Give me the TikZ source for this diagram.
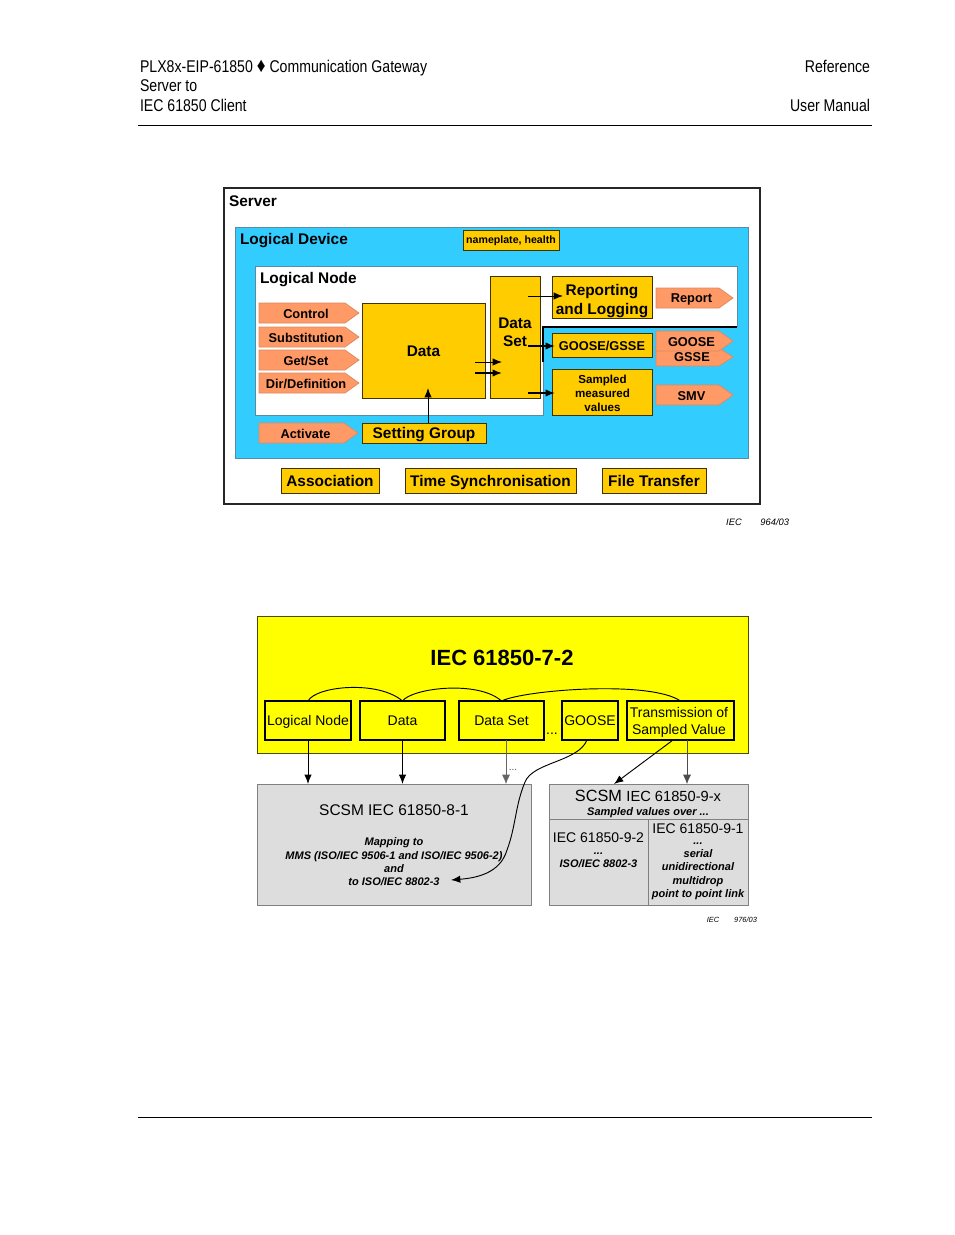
\documentclass[tikz,border=0pt]{standalone}
\usepackage{fontspec}
\setmainfont{Liberation Sans}
\newfontfamily\hdrfont[FakeStretch=0.83]{Liberation Sans}
\usetikzlibrary{arrows.meta}
\definecolor{gold}{HTML}{FFCC00}
\definecolor{skyb}{HTML}{33CCFF}
\definecolor{orng}{HTML}{FF9966}
\definecolor{orngl}{HTML}{D98A60}
\definecolor{yel}{HTML}{FFFF00}
\definecolor{grayb}{HTML}{DDDDDD}
\definecolor{grayl}{HTML}{808080}
\definecolor{teall}{HTML}{5A8CA0}
\tikzset{
  x=0.75pt,y=-0.75pt,
  every node/.style={inner sep=0pt,outer sep=0pt,align=center,text=black},
  gbox/.style={draw=black!75!gold,fill=gold,line width=.75pt,text depth=0pt},
  ybox/.style={draw=black,fill=yel,line width=1.1pt,text depth=0pt},
  gray box/.style={draw=grayl,fill=grayb,line width=.7pt},
  big/.style={font=\fontsize{11.55}{13.6}\selectfont\bfseries},
  mid/.style={font=\fontsize{9.6}{11}\selectfont\bfseries},
  reg/.style={font=\fontsize{10.5}{12.6}\selectfont},
  scsm/.style={font=\fontsize{11.6}{14}\selectfont},
  note/.style={font=\fontsize{8.25}{10}\selectfont\bfseries\itshape},
  hdr/.style={font=\fontsize{12.75}{15}\hdrfont,anchor=base west},
  hdrr/.style={font=\fontsize{12.75}{15}\hdrfont,anchor=base east},
  tagshape/.style={fill=orng,draw=orngl,line width=.5pt},
  arr/.style={-{Latex[length=7pt,width=5.5pt]},line width=.7pt},
  arrb/.style={-{Latex[length=7pt,width=5.5pt]},line width=1.1pt},
  arrg/.style={-{Latex[length=7pt,width=6pt]},line width=.55pt,draw=black!70},
}
\newcommand\dn[1]{\raisebox{-.9pt}{#1}}
\newcommand\bx[7]{%
  \pgfmathsetmacro\bw{(#4-#2)*0.75}%
  \pgfmathsetmacro\bh{(#5-#3)*0.75}%
  \node[#6,minimum width=\bw pt,minimum height=\bh pt,anchor=north west] (#1) at (#2,#3) {#7};}
\newcommand\tg[6]{%
  \pgfmathsetmacro\tipx{#4-14}%
  \pgfmathsetmacro\midy{(#3+#5)/2}%
  \pgfmathsetmacro\txty{\midy+1.3}%
  \pgfmathsetmacro\txtx{(#2+#4-6)/2}%
  \draw[tagshape] (#2,#3) -- (\tipx,#3) -- (#4,\midy) -- (\tipx,#5) -- (#2,#5) -- cycle;
  \node[mid] (#1) at (\txtx,\txty) {#6};}
\begin{document}
\begin{tikzpicture}
\useasboundingbox[fill=white] (0,0) rectangle (954,1235);
% header
\node[hdr] (h1) at (140,72) {PLX8x-EIP-61850 {\fontsize{15.5}{15}\selectfont ♦} Communication Gateway};
\node[hdr] (h2) at (140,91) {Server to};
\node[hdr] (h3) at (140,111) {IEC 61850 Client};
\node[hdrr] (h4) at (870,72) {Reference};
\node[hdrr] (h5) at (870,111) {User Manual};
\coordinate (rt1) at (138,125); \coordinate (rt2) at (872,125);
\coordinate (rb1) at (138,1117); \coordinate (rb2) at (872,1117);
\draw[line width=.75pt] (rt1) -- (rt2);
\draw[line width=.75pt] (rb1) -- (rb2);
% upper diagram
\bx{server}{224}{188}{760}{504}{draw=black!85,fill=white,line width=1.6pt}{}
\node[big,anchor=base west] (serverl) at (229,206) {Server};
\bx{ld}{235}{227}{748}{458}{draw=teall,fill=skyb,line width=.7pt}{}
\node[big,anchor=base west] (ldl) at (240,244) {Logical Device};
\bx{np}{463}{230}{559}{250}{gbox}{\fontsize{7.95}{9}\selectfont\bfseries nameplate, health}
% logical node outline
\fill[white] (255,266) -- (737,266) -- (737,327) -- (543,327) -- (543,415) -- (255,415) -- cycle;
\draw[teall,line width=.7pt] (543,362) -- (543,415) -- (255,415) -- (255,266) -- (737,266) -- (737,327);
\draw[black,line width=.8pt] (543,362) -- (543,327) -- (737,327);
\node[big,anchor=base west] (lnl) at (260,283) {Logical Node};
\tg{ctl}{259}{303}{359}{323}{Control}
\tg{sub}{259}{327}{359}{347}{Substitution}
\tg{gs}{259}{350}{359}{370}{Get/Set}
\tg{dir}{259}{373}{359}{393}{Dir/Definition}
\tg{act}{259}{423}{358}{443}{Activate}
\bx{data}{362}{303}{485}{398}{gbox}{\fontsize{11.55}{13.6}\selectfont\bfseries\dn{Data}}
\bx{ds}{490}{276}{540}{398}{gbox}{}
\node[big] (dsl) at (515,332) {Data\\Set};
\bx{sg}{362}{423}{486}{443}{gbox}{\fontsize{11.55}{13.6}\selectfont\bfseries Setting Group}
\bx{rl}{552}{276}{652}{318}{gbox}{}
\node[big] (rll) at (602,301) {Reporting\\and Logging};
\bx{gg}{552}{333}{652}{357}{gbox}{\fontsize{9.6}{11}\selectfont\bfseries\dn{GOOSE/GSSE}}
\bx{smv}{552}{369}{652}{415}{gbox}{}
\node[font=\fontsize{8.7}{10.6}\selectfont\bfseries] (smvl) at (602.5,393) {Sampled\\measured\\values};
\tg{rep}{656}{288}{733}{308}{Report}
\tg{gsse}{656}{348}{733}{366}{}
\tg{goose}{656}{331}{733}{351}{GOOSE}
\node[mid] (gssel) at (692,357.5) {GSSE};
\tg{smvt}{656}{385}{733}{405}{SMV}
\bx{assoc}{281}{468}{379}{493}{gbox}{\fontsize{11.55}{13.6}\selectfont\bfseries\dn{Association}}
\bx{ts}{405}{468}{576}{493}{gbox}{\fontsize{11.55}{13.6}\selectfont\bfseries Time Synchronisation}
\bx{ft}{602}{468}{706}{493}{gbox}{\fontsize{11.55}{13.6}\selectfont\bfseries File Transfer}
% upper arrows
\coordinate (a1) at (475,362); \coordinate (a1e) at (502,362);
\coordinate (a2) at (475,373); \coordinate (a2e) at (502,373);
\coordinate (a3) at (428,423); \coordinate (a3e) at (428,388);
\coordinate (b1) at (528,296); \coordinate (b1e) at (563,296);
\coordinate (b2) at (528,346); \coordinate (b2e) at (555,346);
\coordinate (b3) at (528,393); \coordinate (b3e) at (555,393);
\draw[arr] (a1) -- (a1e);
\draw[arrb] (a2) -- (a2e);
\draw[arr] (a3) -- (a3e);
\draw[arr] (b1) -- (b1e);
\draw[arrb] (b2) -- (b2e);
\draw[arrb] (b3) -- (b3e);
\node[font=\fontsize{7}{8}\selectfont\itshape,anchor=base east] (iec1) at (789,525) {IEC\hspace{2em}964/03};
% lower diagram
\bx{main}{257}{616}{748}{753}{draw=black!70!yel,fill=yel,line width=.6pt}{}
\node[font=\fontsize{16.5}{18}\selectfont\bfseries] (title) at (502,658) {IEC 61850-7-2};
\bx{ln}{265}{701}{351}{740}{ybox}{\fontsize{10.5}{12.6}\selectfont Logical Node}
\bx{dt}{360}{701}{445}{740}{ybox}{\fontsize{10.5}{12.6}\selectfont\dn{Data}}
\bx{dst}{459}{701}{544}{740}{ybox}{\fontsize{10.5}{12.6}\selectfont\dn{Data Set}}
\bx{gs2}{562}{701}{618}{740}{ybox}{\fontsize{10.5}{12.6}\selectfont\dn{GOOSE}}
\bx{tsv}{627}{701}{734}{740}{ybox}{}
\node[reg] (tsvl) at (679,722) {Transmission of\\Sampled Value};
\node[font=\fontsize{10.5}{12}\selectfont] (dots) at (552,734) {...};
\draw[line width=.7pt] (ln.north) .. controls (316,686) and (378,680) .. (dt.north);
\draw[line width=.7pt] (dt.north) .. controls (412,688) and (478,680) .. (dst.north);
\draw[line width=.7pt] (dst.north) .. controls (524,690) and (650,680) .. (tsv.north);
\bx{m81}{257}{784}{531}{905}{gray box}{}
\node[scsm] (m81t) at (394,810) {SCSM IEC 61850-8-1};
\node[note] (m81n) at (394,862) {Mapping to\\MMS (ISO/IEC 9506-1 and ISO/IEC 9506-2)\\and\\to ISO/IEC 8802-3};
\bx{m9x}{549}{784}{748}{819}{gray box}{}
\bx{m92}{549}{819}{648}{905}{gray box}{}
\bx{m91}{648}{819}{748}{905}{gray box}{}
\node[font=\fontsize{12.2}{14}\selectfont] (m9xt) at (648,796) {SCSM {\fontsize{11}{14}\selectfont IEC 61850-9-x}};
\node[font=\fontsize{8.25}{10}\selectfont\bfseries\itshape] (m9xn) at (648,812.5) {Sampled values over ...};
\node[reg] (m92t) at (598.5,838) {IEC 61850-9-2};
\node[note,font=\fontsize{8.25}{9.6}\selectfont\bfseries\itshape] (m92n) at (598.5,860) {...\\ISO/IEC 8802-3};
\node[reg] (m91t) at (698,829) {IEC 61850-9-1};
\node[note] (m91n) at (698,871) {...\\serial\\unidirectional\\multidrop\\point to point link};
% lower arrows
\coordinate (c1) at (308,784); \coordinate (c2) at (402.5,784);
\coordinate (c3s) at (506,740); \coordinate (c3) at (506,784);
\coordinate (c4s) at (687,740); \coordinate (c4) at (687,784);
\coordinate (c5s) at (673,740); \coordinate (c5) at (614,784);
\coordinate (c6s) at (587,740); \coordinate (c6) at (451,880);
\draw[arr] (ln.south) -- (c1);
\draw[arr] (dt.south) -- (c2);
\draw[arrg,draw=black!60] (c3s) -- (c3);
\draw[arrg] (c4s) -- (c4);
\draw[arr] (c5s) -- (c5);
\draw[arr] (c6s) .. controls (578,762) and (533,762) .. (525,782) .. controls (515,806) and (516,826) .. (507,850) .. controls (500,874) and (475,878) .. (c6);
\node[font=\fontsize{7.5}{9}\selectfont,text=black!70] (dots2) at (513,770) {...};
\node[font=\fontsize{5.6}{6}\selectfont\itshape,anchor=base east] (iec2) at (757,922) {IEC\hspace{2em}976/03};
\end{tikzpicture}
\end{document}
